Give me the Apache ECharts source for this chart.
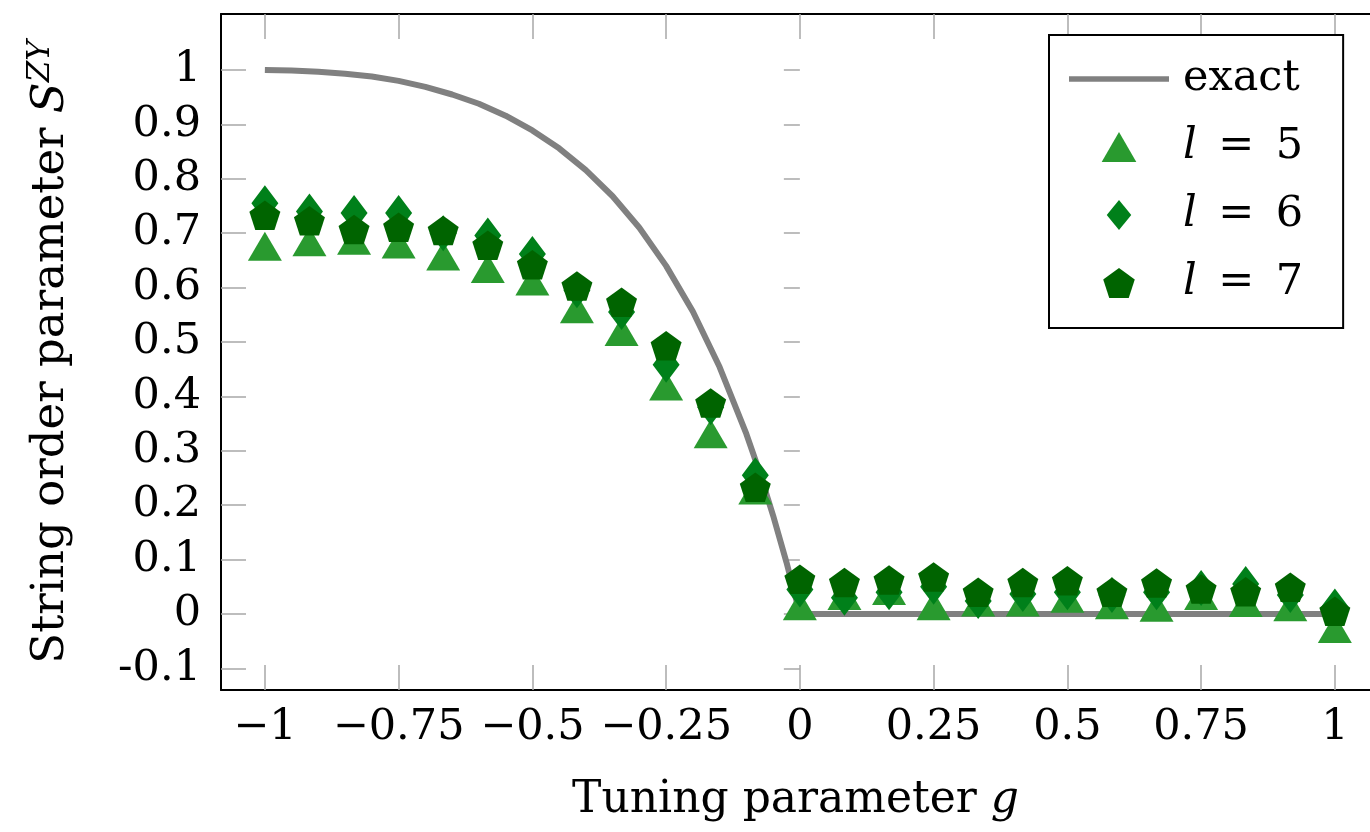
<!DOCTYPE html>
<html>
<head>
<meta charset="utf-8">
<script src="https://cdn.jsdelivr.net/npm/echarts@6/dist/echarts.min.js"></script>
<style>
  html, body { margin: 0; padding: 0; background: #fff; }
  #chart { width: 1370px; height: 832px; }
</style>
</head>
<body>
<div id="chart"></div>
<script>
// Tuning parameter values of the sampled points (steps of 1/12)
const gValues = [-1, -0.9167, -0.8333, -0.75, -0.6667, -0.5833, -0.5, -0.4167, -0.3333, -0.25, -0.1667, -0.0833,
  0, 0.0833, 0.1667, 0.25, 0.3333, 0.4167, 0.5, 0.5833, 0.6667, 0.75, 0.8333, 0.9167, 1];

// String order parameter for chain lengths l = 5, 6, 7
const sL5 = [0.667, 0.675, 0.678, 0.671, 0.649, 0.626, 0.603, 0.552, 0.510, 0.410, 0.322, 0.219,
  0.006, 0.025, 0.034, 0.006, 0.013, 0.013, 0.020, 0.008, 0.003, 0.025, 0.012, 0.004, -0.036];
const sL6 = [0.755, 0.740, 0.737, 0.737, 0.700, 0.696, 0.662, 0.595, 0.555, 0.458, 0.380, 0.255,
  0.045, 0.030, 0.040, 0.050, 0.024, 0.037, 0.040, 0.035, 0.040, 0.048, 0.055, 0.035, 0.014];
const sL7 = [0.733, 0.723, 0.707, 0.711, 0.705, 0.678, 0.642, 0.603, 0.573, 0.493, 0.388, 0.233,
  0.064, 0.058, 0.0625, 0.068, 0.040, 0.058, 0.061, 0.040, 0.057, 0.046, 0.041, 0.049, 0.005];

// Exact curve
const exactG = [-1, -0.95, -0.9, -0.85, -0.8, -0.75, -0.7, -0.65, -0.6, -0.55, -0.5, -0.45, -0.4, -0.35,
  -0.3, -0.25, -0.2, -0.15, -0.1, -0.075, -0.05, -0.025, 0, 1];
const exactS = [1.000, 0.999, 0.997, 0.993, 0.988, 0.980, 0.969, 0.955, 0.938, 0.916, 0.889, 0.856, 0.816, 0.768,
  0.710, 0.640, 0.556, 0.454, 0.331, 0.260, 0.181, 0.095, 0, 0];

// Ticks and labels
const xTicks = [-1, -0.75, -0.5, -0.25, 0, 0.25, 0.5, 0.75, 1];
const xTickLabels = ['\u22121', '\u22120.75', '\u22120.5', '\u22120.25', '0', '0.25', '0.5', '0.75', '1'];
const yTicks = [-0.1, 0, 0.1, 0.2, 0.3, 0.4, 0.5, 0.6, 0.7, 0.8, 0.9, 1];
const yTickLabels = ['-0.1', '0', '0.1', '0.2', '0.3', '0.4', '0.5', '0.6', '0.7', '0.8', '0.9', '1'];

const seriesNames = ['exact', 'l = 5', 'l = 6', 'l = 7'];

const FONT = 'DejaVu Serif';
const TICK_COLOR = '#a8a8a8';
const X_MIN = -1.082, X_MAX = 1.0657;
const Y_MIN = -0.1397, Y_MAX = 1.103;

// Marker outlines (pgfplots-like proportions)
const TRIANGLE = 'path://M0,-1L0.866,0.5L-0.866,0.5Z';
const DIAMOND = 'path://M0,-4L3,0L0,4L-3,0Z';
const DIAMOND_KEY = 'path://M0,-33L27,0L0,33L-27,0Z';
const PENTAGON = 'path://M0,-1L0.951,-0.309L0.588,0.809L-0.588,0.809L-0.951,-0.309Z';
const LINE_KEY = 'path://M0,0H100V5.5H0Z';

function pairs(xs, ys) { return xs.map((x, i) => [x, ys[i]]); }
function labelFor(values, labels) {
  return v => {
    const i = values.findIndex(t => Math.abs(t - v) < 1e-6);
    return i >= 0 ? labels[i] : '';
  };
}

const chart = echarts.init(document.getElementById('chart'), null, { renderer: 'canvas' });

const tickCommon = { show: true, inside: true, length: 25, lineStyle: { color: TICK_COLOR, width: 1.5 } };
const lineCommon = { show: true, lineStyle: { color: '#000', width: 2 } };

chart.setOption({
  animation: false,
  backgroundColor: '#fff',
  grid: { left: 221, top: 14, right: 0, bottom: 142, containLabel: false },
  xAxis: [
    {
      type: 'value', position: 'bottom', min: X_MIN, max: X_MAX,
      axisLine: Object.assign({ onZero: false }, lineCommon),
      axisTick: Object.assign({ customValues: xTicks }, tickCommon),
      splitLine: { show: false },
      axisLabel: {
        customValues: xTicks, formatter: labelFor(xTicks, xTickLabels),
        fontFamily: FONT, fontSize: 43, color: '#000', margin: 16
      },
      name: 'Tuning parameter {it|g}', nameLocation: 'middle', nameGap: 89,
      nameTextStyle: {
        fontFamily: FONT, fontSize: 44, color: '#000',
        rich: { it: { fontFamily: FONT, fontStyle: 'italic', fontSize: 44, color: '#000' } }
      }
    },
    {
      type: 'value', position: 'top', min: X_MIN, max: X_MAX,
      axisLine: Object.assign({ onZero: false }, lineCommon),
      axisTick: Object.assign({ customValues: xTicks }, tickCommon),
      axisLabel: { show: false }, splitLine: { show: false }
    }
  ],
  yAxis: [
    {
      type: 'value', position: 'left', min: Y_MIN, max: Y_MAX,
      axisLine: Object.assign({ onZero: false }, lineCommon),
      axisTick: Object.assign({ customValues: yTicks }, tickCommon),
      splitLine: { show: false },
      axisLabel: {
        customValues: yTicks, formatter: labelFor(yTicks, yTickLabels),
        fontFamily: FONT, fontSize: 43, color: '#000', margin: 20
      },
      name: 'String order parameter {it|S}{sup|ZY}', nameLocation: 'middle', nameRotate: 90, nameGap: 144,
      nameTextStyle: {
        fontFamily: FONT, fontSize: 45, color: '#000', lineHeight: 52,
        rich: {
          it: { fontFamily: FONT, fontStyle: 'italic', fontSize: 45, color: '#000', lineHeight: 52 },
          sup: { fontFamily: FONT, fontStyle: 'italic', fontSize: 31, color: '#000', verticalAlign: 'top', lineHeight: 52, padding: [0, 0, 19, 0] }
        }
      }
    },
    {
      // right frame edge lies just beyond the canvas; only its ticks show
      type: 'value', position: 'right', min: Y_MIN, max: Y_MAX,
      axisLine: { show: false },
      axisTick: Object.assign({}, tickCommon, { customValues: yTicks, length: 16 }),
      axisLabel: { show: false }, splitLine: { show: false }
    }
  ],
  legend: {
    orient: 'vertical', left: 1049, top: 35,
    padding: [19, 40, 20, 20], itemGap: 18, itemWidth: 100, itemHeight: 30,
    backgroundColor: '#fff', borderColor: '#000', borderWidth: 2, borderRadius: 0,
    data: [
      { name: seriesNames[0], icon: LINE_KEY },
      { name: seriesNames[1], icon: TRIANGLE },
      { name: seriesNames[2], icon: DIAMOND_KEY },
      { name: seriesNames[3], icon: PENTAGON }
    ],
    formatter: name => name.replace(/^l/, '{it|l}').replace(/ = /, '\u2002=\u2002'),
    textStyle: {
      fontFamily: FONT, fontSize: 43, color: '#000', lineHeight: 50, padding: [0, 0, 0, 9],
      rich: { it: { fontFamily: FONT, fontStyle: 'italic', fontSize: 43, color: '#000', lineHeight: 50 } }
    }
  },
  series: [
    {
      name: seriesNames[0], type: 'line', data: pairs(exactG, exactS),
      showSymbol: false, symbol: 'none',
      lineStyle: { color: '#808080', width: 6 }, itemStyle: { color: '#808080' }, z: 1
    },
    {
      name: seriesNames[1], type: 'scatter', data: pairs(gValues, sL5),
      symbol: TRIANGLE, symbolSize: [34, 29], symbolOffset: [0, -5],
      itemStyle: { color: '#299a2f', opacity: 1 }, z: 2
    },
    {
      name: seriesNames[2], type: 'scatter', data: pairs(gValues, sL6),
      symbol: DIAMOND, symbolSize: [27, 36],
      itemStyle: { color: '#00801a', opacity: 1 }, z: 3
    },
    {
      name: seriesNames[3], type: 'scatter', data: pairs(gValues, sL7),
      symbol: PENTAGON, symbolSize: [31, 29.5],
      itemStyle: { color: '#006400', opacity: 1 }, z: 4
    }
  ]
});
</script>
</body>
</html>
